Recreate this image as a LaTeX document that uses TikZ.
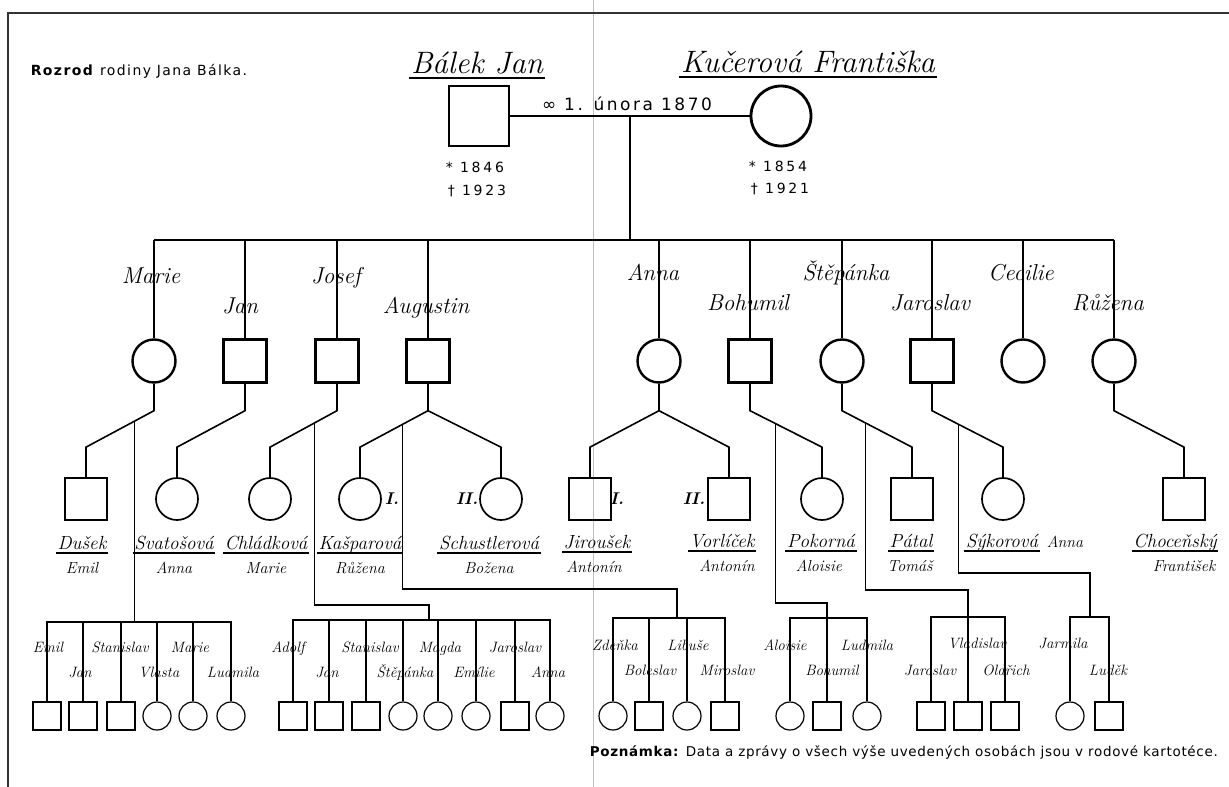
\documentclass[tikz,border=0pt]{standalone}
\usepackage{fontspec}
\newfontfamily\titlefont[LetterSpace=10]{DejaVu Sans}
\newfontfamily\datefont[LetterSpace=20]{DejaVu Sans}
\newfontfamily\wedfont[LetterSpace=15]{DejaVu Sans}
\newfontfamily\notefont[LetterSpace=5]{DejaVu Sans}

\tikzset{
  boy/.style={draw, rectangle, inner sep=0pt},
  girl/.style={draw, circle, inner sep=0pt},
  gen1/.style={minimum size=60pt, line width=2.8pt},
  gen2/.style={minimum size=43pt, line width=2.4pt},
  gen3/.style={minimum size=42pt, line width=1.7pt},
  gen4/.style={minimum size=28pt, line width=1.2pt},
  parname/.style={font=\fontsize{31}{31}\selectfont\itshape, anchor=base, inner sep=1pt},
  chname/.style={font=\fontsize{23}{23}\selectfont\itshape, anchor=base, inner sep=0pt},
  spname/.style={font=\fontsize{19}{19}\selectfont\itshape, anchor=base, inner sep=1pt},
  spfirst/.style={font=\fontsize{16}{16}\selectfont\itshape, anchor=base, inner sep=0pt},
  gkname/.style={font=\fontsize{15}{15}\selectfont\itshape, anchor=base, inner sep=0pt},
  marnum/.style={font=\fontsize{17}{17}\selectfont\bfseries\itshape, anchor=base, inner sep=0pt},
  dates/.style={font=\datefont\fontsize{14}{14}\selectfont, anchor=base west, inner sep=0pt},
}

\begin{document}
\begin{tikzpicture}[x=1pt, y=-1pt, line width=1.6pt]
\useasboundingbox (0,0) rectangle (1229,787);
% sheet
\draw[line width=0.6pt, black!25] (593,0) -- (593,787);
\draw[line width=1.8pt, black!80] (8,787) -- (8,13) -- (1229,13);
\node[font=\titlefont\fontsize{14}{14}\selectfont, anchor=base west, inner sep=0pt] (t0) at (30,75) {\textbf{Rozrod} rodiny Jana Bálka.};

% parents
\node[boy, gen1] (p0) at (479,116) {};
\node[girl, gen1] (p1) at (781,116) {};
\node[parname] (n0) at (477,73) {Bálek Jan};
\node[parname] (n1) at (808,72) {Kučerová Františka};
\node[font=\wedfont\fontsize{17}{17}\selectfont, anchor=base] (w0) at (627,110) {∞ 1. února 1870};
\node[dates] (d0) at (445,172) {* 1846};
\node[dates] (d1) at (447,195) {† 1923};
\node[dates] (d2) at (748,171) {* 1854};
\node[dates] (d3) at (750,193) {† 1921};
\coordinate (c0) at (630,116);
\coordinate (c1) at (630,240);
\draw[line width=2.8pt] (p0) -- (p1);
\draw[line width=2.8pt] (c0) -- (c1);

% children
\node[girl, gen2] (k1) at (154,361) {};
\node[boy, gen2] (k2) at (245,361) {};
\node[boy, gen2] (k3) at (337,361) {};
\node[boy, gen2] (k4) at (428,361) {};
\node[girl, gen2] (k5) at (659,361) {};
\node[boy, gen2] (k6) at (750,361) {};
\node[girl, gen2] (k7) at (842,361) {};
\node[boy, gen2] (k8) at (932,361) {};
\node[girl, gen2] (k9) at (1023,361) {};
\node[girl, gen2] (k10) at (1114,361) {};
\draw[line width=2.8pt] (k1 |- c1) -- (k10 |- c1);
\path[line width=2.4pt] (k1) edge (k1 |- c1) (k2) edge (k2 |- c1) (k3) edge (k3 |- c1)
  (k4) edge (k4 |- c1) (k5) edge (k5 |- c1) (k6) edge (k6 |- c1) (k7) edge (k7 |- c1)
  (k8) edge (k8 |- c1) (k9) edge (k9 |- c1) (k10) edge (k10 |- c1);
\node[chname] (m1) at (151,283) {Marie};
\node[chname] (m2) at (240,313) {Jan};
\node[chname] (m3) at (336,283) {Josef};
\node[chname] (m4) at (426,313) {Augustin};
\node[chname] (m5) at (653,280) {Anna};
\node[chname] (m6) at (748,310) {Bohumil};
\node[chname] (m7) at (846,280) {Štěpánka};
\node[chname] (m8) at (930,310) {Jaroslav};
\node[chname] (m9) at (1021,280) {Cecilie};
\node[chname] (m10) at (1108,310) {Růžena};

% husbands and wives
\node[boy, gen3] (s1) at (86,499) {};
\node[girl, gen3] (s2) at (177,499) {};
\node[girl, gen3] (s3) at (270,499) {};
\node[girl, gen3] (s4) at (360,499) {};
\node[girl, gen3] (s5) at (501,499) {};
\node[boy, gen3] (s6) at (590,499) {};
\node[boy, gen3] (s7) at (729,499) {};
\node[girl, gen3] (s8) at (822,499) {};
\node[boy, gen3] (s9) at (912,499) {};
\node[girl, gen3] (s10) at (1003,499) {};
\node[boy, gen3] (s11) at (1184,499) {};
\node[marnum] (r1) at (392,504) {I.};
\node[marnum] (r2) at (467,504) {II.};
\node[marnum] (r3) at (617,504) {I.};
\node[marnum] (r4) at (694,504) {II.};
\draw (k1.south) -- ++(0,27) -- coordinate[pos=.29] (jA) ([yshift=30pt]s1.north) -- (s1.north);
\draw (k2.south) -- ++(0,27) -- ([yshift=30pt]s2.north) -- (s2.north);
\draw (k3.south) -- ++(0,27) -- coordinate[pos=.34] (jB) ([yshift=30pt]s3.north) -- (s3.north);
\draw (k4.south) -- ++(0,27) coordinate (a4) -- coordinate[pos=.37] (jC) ([yshift=30pt]s4.north) -- (s4.north);
\draw (a4) -- ([yshift=30pt]s5.north) -- (s5.north);
\draw (k5.south) -- ++(0,27) coordinate (a5) -- ([yshift=30pt]s6.north) -- (s6.north);
\draw (a5) -- ([yshift=30pt]s7.north) -- (s7.north);
\draw (k6.south) -- ++(0,27) -- coordinate[pos=.35] (jD) ([yshift=30pt]s8.north) -- (s8.north);
\draw (k7.south) -- ++(0,27) -- coordinate[pos=.34] (jE) ([yshift=30pt]s9.north) -- (s9.north);
\draw (k8.south) -- ++(0,27) -- coordinate[pos=.37] (jF) ([yshift=30pt]s10.north) -- (s10.north);
\draw (k10.south) -- ++(0,27) -- ([yshift=30pt]s11.north) -- (s11.north);

\node[spname] (l1) at (82,549) {Dušek};
\node[spname] (l2) at (174,549) {Svatošová};
\node[spname] (l3) at (266,549) {Chládková};
\node[spname] (l4) at (360,549) {Kašparová};
\node[spname] (l5) at (489,549) {Schustlerová};
\node[spname] (l6) at (597,548) {Jiroušek};
\node[spname] (l7) at (722,547) {Vorlíček};
\node[spname] (l8) at (821,547) {Pokorná};
\node[spname] (l9) at (911,547) {Pátal};
\node[spname] (l10) at (1002,547) {Sýkorová};
\node[spname] (l11) at (1175,547) {Choceňský};
\foreach \n in {l1,l2,l3,l4,l5,l6,l7,l8,l9,l10,l11}
  \draw[line width=1.2pt] ([yshift=-4pt]\n.base west) -- ([yshift=-4pt]\n.base east);
\draw[line width=1.3pt] ([yshift=-5pt]n0.base west) -- ([yshift=-5pt]n0.base east);
\draw[line width=1.3pt] ([yshift=-5pt]n1.base west) -- ([yshift=-5pt]n1.base east);
\node[spfirst] (e1) at (82,573) {Emil};
\node[spfirst] (e2) at (174,573) {Anna};
\node[spfirst] (e3) at (266,573) {Marie};
\node[spfirst] (e4) at (360,573) {Růžena};
\node[spfirst] (e5) at (489,573) {Božena};
\node[spfirst] (e6) at (594,572) {Antonín};
\node[spfirst] (e7) at (727,571) {Antonín};
\node[spfirst] (e8) at (819,571) {Aloisie};
\node[spfirst] (e9) at (910,571) {Tomáš};
\node[spfirst] (e10) at (1065,547) {Anna};
\node[spfirst] (e11) at (1184,571) {František};

% grandchildren
\node[boy, gen4] (gA1) at (47,716) {};
\node[boy, gen4] (gA2) at (83,716) {};
\node[boy, gen4] (gA3) at (121,716) {};
\node[girl, gen4] (gA4) at (157,716) {};
\node[girl, gen4] (gA5) at (193,716) {};
\node[girl, gen4] (gA6) at (231,716) {};
\node[boy, gen4] (gB1) at (293,716) {};
\node[boy, gen4] (gB2) at (329,716) {};
\node[boy, gen4] (gB3) at (366,716) {};
\node[girl, gen4] (gB4) at (403,716) {};
\node[girl, gen4] (gB5) at (438,716) {};
\node[girl, gen4] (gB6) at (476,716) {};
\node[boy, gen4] (gB7) at (515,716) {};
\node[girl, gen4] (gB8) at (550,716) {};
\node[girl, gen4] (gC1) at (613,716) {};
\node[boy, gen4] (gC2) at (649,716) {};
\node[girl, gen4] (gC3) at (687,716) {};
\node[boy, gen4] (gC4) at (725,716) {};
\node[girl, gen4] (gD1) at (790,716) {};
\node[boy, gen4] (gD2) at (827,716) {};
\node[girl, gen4] (gD3) at (867,716) {};
\node[boy, gen4] (gE1) at (931,716) {};
\node[boy, gen4] (gE2) at (968,716) {};
\node[boy, gen4] (gE3) at (1005,716) {};
\node[girl, gen4] (gF1) at (1070,716) {};
\node[boy, gen4] (gF2) at (1109,716) {};

\begin{scope}[line width=1.3pt]
\coordinate (bA) at (134,622);
\draw (jA) -- (jA |- bA);
\draw (gA1.north) |- (bA) -| (gA6.north);
\path (gA2.north) edge (gA2.north |- bA) (gA3.north) edge (gA3.north |- bA)
  (gA4.north) edge (gA4.north |- bA) (gA5.north) edge (gA5.north |- bA);
\coordinate (tB) at (429,605);
\coordinate (bB) at (429,620);
\draw (jB) |- (tB) -- (bB);
\draw (gB1.north) |- (bB) -| (gB8.north);
\path (gB2.north) edge (gB2.north |- bB) (gB3.north) edge (gB3.north |- bB)
  (gB4.north) edge (gB4.north |- bB) (gB5.north) edge (gB5.north |- bB)
  (gB6.north) edge (gB6.north |- bB) (gB7.north) edge (gB7.north |- bB);
\coordinate (tC) at (677,589);
\coordinate (bC) at (677,618);
\draw (jC) |- (tC) -- (bC);
\draw (gC1.north) |- (bC) -| (gC4.north);
\path (gC2.north) edge (gC2.north |- bC) (gC3.north) edge (gC3.north |- bC);
\coordinate (tD) at (827,603);
\coordinate (bD) at (827,618);
\draw (jD) |- (tD) -- (gD2.north);
\draw (gD1.north) |- (bD) -| (gD3.north);
\coordinate (tE) at (968,590);
\coordinate (bE) at (968,617);
\draw (jE) |- (tE) -- (gE2.north);
\draw (gE1.north) |- (bE) -| (gE3.north);
\coordinate (tF) at (1090,573);
\coordinate (bF) at (1090,617);
\draw (jF) |- (tF) -- (bF);
\draw (gF1.north) |- (bF) -| (gF2.north);
\end{scope}

\node[gkname] (h1) at (48,652) {Emil};
\node[gkname] (h2) at (80,677) {Jan};
\node[gkname] (h3) at (120,652) {Stanislav};
\node[gkname] (h4) at (159,677) {Vlasta};
\node[gkname] (h5) at (190,652) {Marie};
\node[gkname] (h6) at (233,677) {Ludmila};
\node[gkname] (h7) at (288,652) {Adolf};
\node[gkname] (h8) at (327,677) {Jan};
\node[gkname] (h9) at (370,652) {Stanislav};
\node[gkname] (h10) at (405,677) {Štěpánka};
\node[gkname] (h11) at (440,652) {Magda};
\node[gkname] (h12) at (474,677) {Emílie};
\node[gkname] (h13) at (515,652) {Jaroslav};
\node[gkname] (h14) at (548,677) {Anna};
\node[gkname] (h15) at (615,650) {Zdeňka};
\node[gkname] (h16) at (650,675) {Boleslav};
\node[gkname] (h17) at (688,650) {Libuše};
\node[gkname] (h18) at (727,675) {Miroslav};
\node[gkname] (h19) at (785,650) {Aloisie};
\node[gkname] (h20) at (832,675) {Bohumil};
\node[gkname] (h21) at (867,650) {Ludmila};
\node[gkname] (h22) at (930,675) {Jaroslav};
\node[gkname] (h23) at (977,648) {Vladislav};
\node[gkname] (h24) at (1006,675) {Oldřich};
\node[gkname] (h25) at (1063,648) {Jarmila};
\node[gkname] (h26) at (1108,675) {Luděk};

\node[font=\notefont\fontsize{13.5}{13.5}\selectfont, anchor=base west, inner sep=0pt] (f0) at (589,756) {\textbf{Poznámka:} Data a zprávy o všech výše uvedených osobách jsou v rodové kartotéce.};
\end{tikzpicture}
\end{document}
